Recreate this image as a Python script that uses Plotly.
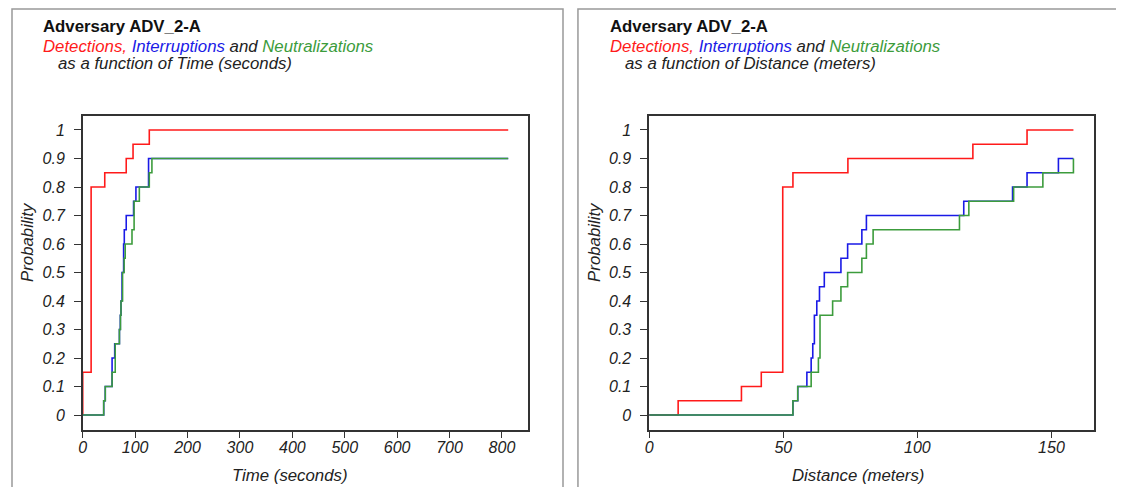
import plotly.graph_objects as go

# ---------------- data ----------------
# Left chart: probability vs time (seconds)
time_det_x = [0, 0, 16, 42, 83, 96, 127, 812]
time_det_y = [0, 0.15, 0.80, 0.85, 0.90, 0.95, 1.00, 1.00]

time_int_x = [0, 40, 43, 56, 61, 70, 71.7, 73, 75, 78, 79.3, 83, 97, 101.5, 125.6, 812]
time_int_y = [0, 0.05, 0.10, 0.20, 0.25, 0.30, 0.35, 0.40, 0.50, 0.60, 0.65, 0.70, 0.75, 0.80, 0.90, 0.90]

time_neu_x = [0, 40, 43, 56, 62, 70, 72, 73, 76, 79, 81, 94, 98, 108, 127, 132, 812]
time_neu_y = [0, 0.05, 0.10, 0.15, 0.25, 0.30, 0.35, 0.40, 0.50, 0.55, 0.60, 0.65, 0.75, 0.80, 0.85, 0.90, 0.90]

# Right chart: probability vs distance (meters)
dist_det_x = [0, 10.8, 34.4, 41.8, 49.8, 53.6, 74.1, 120.7, 140.9, 158.2]
dist_det_y = [0, 0.05, 0.10, 0.15, 0.80, 0.85, 0.90, 0.95, 1.00, 1.00]

dist_int_x = [0, 53.6, 55.4, 58.8, 60.4, 61.0, 61.6, 62.5, 63.5, 65.3, 71.5, 74.0, 79.3, 81.0,
              117.3, 135.5, 140.9, 152.6, 158.2]
dist_int_y = [0, 0.05, 0.10, 0.15, 0.20, 0.25, 0.35, 0.40, 0.45, 0.50, 0.55, 0.60, 0.65, 0.70,
              0.75, 0.80, 0.85, 0.90, 0.90]

dist_neu_x = [0, 53.6, 55.4, 60.4, 63.1, 63.7, 68.4, 71.5, 74.0, 79.3, 81.0, 83.5, 115.7, 119.2,
              135.9, 146.8, 158.2]
dist_neu_y = [0, 0.05, 0.10, 0.15, 0.20, 0.35, 0.40, 0.45, 0.50, 0.55, 0.60, 0.65, 0.70, 0.75,
              0.80, 0.85, 0.90]

y_ticks = [0, 0.1, 0.2, 0.3, 0.4, 0.5, 0.6, 0.7, 0.8, 0.9, 1]
y_tick_labels = ["0", "0.1", "0.2", "0.3", "0.4", "0.5", "0.6", "0.7", "0.8", "0.9", "1"]
time_ticks = [0, 100, 200, 300, 400, 500, 600, 700, 800]
dist_ticks = [0, 50, 100, 150]

title_main = "Adversary ADV_2-A"
subtitle_time = "as a function of Time (seconds)"
subtitle_dist = "as a function of Distance (meters)"

# ---------------- styling ----------------
OFF = 8                      # page body margin
W, H = 1124 - 2 * OFF, 495 - 2 * OFF
RED, BLUE, GREEN = "#ff1a1a", "#1a1ae6", "#3c9c3c"
FONT = "Liberation Sans, Arial, sans-serif"
AXC = "#333333"


def px(x):
    return (x - OFF) / W


def py(y):
    return 1 - (y - OFF) / H


fig = go.Figure()

series = [
    ("x", "y", time_det_x, time_det_y, RED),
    ("x", "y", time_int_x, time_int_y, BLUE),
    ("x", "y", time_neu_x, time_neu_y, GREEN),
    ("x2", "y2", dist_det_x, dist_det_y, RED),
    ("x2", "y2", dist_int_x, dist_int_y, BLUE),
    ("x2", "y2", dist_neu_x, dist_neu_y, GREEN),
]
for xa, ya, xs, ys, c in series:
    fig.add_trace(go.Scatter(x=xs, y=ys, xaxis=xa, yaxis=ya, mode="lines",
                             line=dict(color=c, width=1.6, shape="hv"),
                             showlegend=False, hoverinfo="skip"))

ydom = [py(430), py(116)]
yrange = [-0.0526, 1.0491]

tickfont = dict(family=FONT, size=16, color="#222", style="italic")
common_x = dict(showline=True, linecolor=AXC, linewidth=1.5, mirror=True,
                ticks="outside", ticklen=6, tickcolor=AXC, tickwidth=1,
                ticklabelstandoff=-4,
                showgrid=False, zeroline=False, tickfont=tickfont)
common_y = dict(showline=True, linecolor=AXC, linewidth=1.5, mirror=True,
                ticks="outside", ticklen=7, tickcolor=AXC, tickwidth=1,
                ticklabelstandoff=6,
                showgrid=False, zeroline=False, range=yrange,
                tickvals=y_ticks, ticktext=y_tick_labels, tickfont=tickfont)

fig.update_layout(
    width=W, height=H,
    margin=dict(l=0, r=0, t=0, b=0),
    paper_bgcolor="white", plot_bgcolor="white",
    xaxis=dict(domain=[px(79), px(526)], range=[0, 850], tickvals=time_ticks,
               anchor="y", **common_x),
    yaxis=dict(domain=ydom, anchor="x", **common_y),
    xaxis2=dict(domain=[px(647.5), px(1094)], range=[0, 165.9], tickvals=dist_ticks,
                anchor="y2", **common_x),
    yaxis2=dict(domain=ydom, anchor="x2", **common_y),
)

# panel frames
for x0, x1 in [(8, 561), (576, 1140)]:
    fig.add_shape(type="rect", xref="paper", yref="paper",
                  x0=px(x0), x1=px(x1), y0=py(520), y1=py(9),
                  line=dict(color="#999999", width=1.5), fillcolor="rgba(0,0,0,0)",
                  layer="below")

sub2 = ("<span style='color:%s'>Detections,</span> <span style='color:%s'>Interruptions</span> "
        "and <span style='color:%s'>Neutralizations</span>") % (RED, BLUE, GREEN)

TS = 16.8
annots = []
for left, sub3, xtitle, xcenter, ylab_x in [
    (37, subtitle_time, "Time (seconds)", 287, 23),
    (606, subtitle_dist, "Distance (meters)", 857, 592),
]:
    annots.append(dict(text="<b>" + title_main + "</b>", x=px(left), y=py(26), xref="paper", yref="paper",
                       xanchor="left", yanchor="middle", showarrow=False,
                       font=dict(family=FONT, size=TS, color="#111")))
    annots.append(dict(text=sub2, x=px(left), y=py(46), xref="paper", yref="paper",
                       xanchor="left", yanchor="middle", showarrow=False,
                       font=dict(family=FONT, size=TS, color="#222", style="italic")))
    annots.append(dict(text=sub3, x=px(left + 15), y=py(64), xref="paper", yref="paper",
                       xanchor="left", yanchor="middle", showarrow=False,
                       font=dict(family=FONT, size=TS, color="#222", style="italic")))
    annots.append(dict(text=xtitle, x=px(xcenter), y=py(475), xref="paper", yref="paper",
                       xanchor="center", yanchor="middle", showarrow=False,
                       font=dict(family=FONT, size=TS, color="#222", style="italic")))
    annots.append(dict(text="Probability", x=px(ylab_x), y=py(242), xref="paper", yref="paper",
                       xanchor="center", yanchor="middle", showarrow=False, textangle=-90,
                       font=dict(family=FONT, size=TS, color="#222", style="italic")))
fig.update_layout(annotations=annots)

fig.write_html("out.html")
